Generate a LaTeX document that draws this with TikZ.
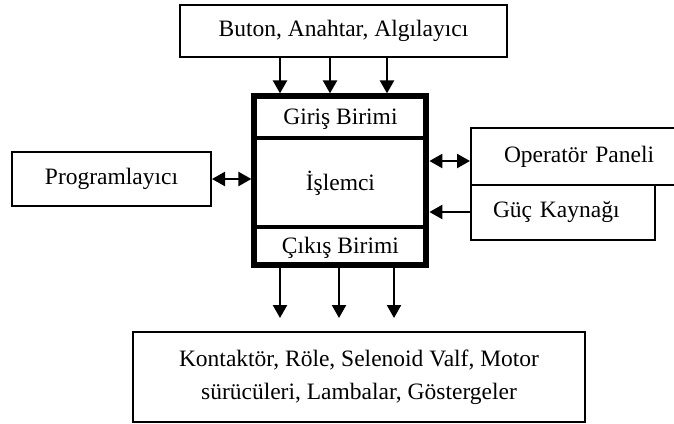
\documentclass[tikz,border=0pt]{standalone}
\usepackage{fontspec}
\setmainfont{Liberation Serif}
\usetikzlibrary{arrows.meta}
\tikzset{
  txt/.style={font=\fontsize{23.5}{33}\selectfont},
  box/.style={draw, line width=2pt, inner sep=0pt, txt},
  plcbox/.style={draw, line width=6pt, inner sep=0pt},
  bolm/.style={line width=4pt},
  arr/.style={line width=2.3pt, -{Triangle[width=14pt,length=13pt]}},
  darr/.style={line width=2.3pt, {Triangle[width=14pt,length=13pt]}-{Triangle[width=14pt,length=13pt]}}
}
\begin{document}
\begin{tikzpicture}[x=1pt,y=-1pt]
\useasboundingbox (0,0) rectangle (674,423);
\node[box, minimum width=327pt, minimum height=52pt] (giris) at (343.5,31) {Buton, Anahtar, Algılayıcı};
\node[plcbox, minimum width=172pt, minimum height=169pt] (plc) at (340.4,180.9) {};
\draw[bolm] (plc.west |- 0,138) -- (plc.east |- 0,138);
\draw[bolm] (plc.west |- 0,226.5) -- (plc.east |- 0,226.5);
\node[txt, anchor=base] (girisb) at (340.4,124) {Giriş Birimi};
\node[txt, anchor=base] (islemci) at (340.4,190) {İşlemci};
\node[txt, anchor=base] (cikisb) at (340.4,253) {Çıkış Birimi};
\node[box, minimum width=199pt, minimum height=54pt] (prog) at (111.5,179) {Programlayıcı};
\node[box, anchor=north west, minimum height=57pt, text width=190pt, inner xsep=33pt, align=left] (panel) at (470,127) {Operatör Paneli};
\node[box, anchor=north west, minimum height=55pt, text width=140pt, inner xsep=22pt, align=left] (guc) at (470,184) {Güç Kaynağı};
\node[box, minimum width=452pt, minimum height=90pt, align=center] (cikis) at (359,377) {Kontaktör, Röle, Selenoid Valf, Motor\\sürücüleri, Lambalar, Göstergeler};

\coordinate (g1) at (280,0);
\coordinate (g2) at (330,0);
\coordinate (g3) at (387,0);
\coordinate (c1) at (280,0);
\coordinate (c2) at (339,0);
\coordinate (c3) at (394,0);
\draw[arr] (giris.south -| g1) -- (plc.north -| g1);
\draw[arr] (giris.south -| g2) -- (plc.north -| g2);
\draw[arr] (giris.south -| g3) -- (plc.north -| g3);
\draw[arr, shorten >=13pt] (plc.south -| c1) -- (cikis.north -| c1);
\draw[arr, shorten >=13pt] (plc.south -| c2) -- (cikis.north -| c2);
\draw[arr, shorten >=13pt] (plc.south -| c3) -- (cikis.north -| c3);
\draw[darr] (prog.east) -- (prog.east -| plc.west);
\draw[darr] (plc.east |- 0,161) -- (panel.west |- 0,161);
\draw[arr] (guc.west |- 0,212) -- (plc.east |- 0,212);
\end{tikzpicture}
\end{document}
